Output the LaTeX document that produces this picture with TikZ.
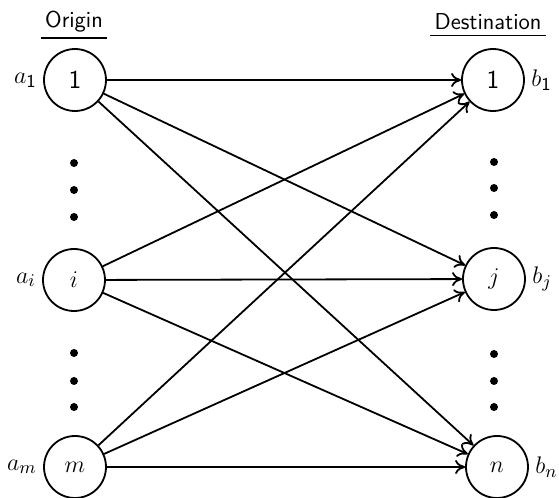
\documentclass[tikz,border=0pt]{standalone}
\usepackage{amsmath}
\usepackage{tikz}
\usetikzlibrary{positioning,arrows.meta}

\begin{document}
\begin{tikzpicture}[
    x=0.5pt, y=-0.5pt,
    node distance=2pt,
    stn/.style={draw, circle, line width=0.9pt, minimum size=31pt, inner sep=0pt, font=\sffamily\fontsize{13}{13}\selectfont},
    lbl/.style={font=\fontsize{13}{13}\selectfont, inner sep=1pt},
    head/.style={font=\sffamily\fontsize{11.5}{13}\selectfont, inner xsep=2pt, inner ysep=1pt},
    flow/.style={-{To[length=5pt,width=7pt]}, line width=0.9pt},
    rule/.style={line width=0.6pt}
]
\useasboundingbox (0,0) rectangle (559,498);

% Nodes
\node (o1) [stn] at (75,80) {1};
\node (oi) [stn] at (74,280) {$i$};
\node (om) [stn] at (75,467) {$m$};
\node (d1) [stn] at (493,80) {1};
\node (dj) [stn] at (494,279) {$j$};
\node (dn) [stn] at (497,467) {$n$};

% Labels
\node (a1) [lbl, left=of o1] {$a_{\textsf{1}}$};
\node (ai) [lbl, left=of oi] {$a_i$};
\node (am) [lbl, left=of om] {$a_m$};
\node (b1) [lbl, right=of d1] {$b_{\textsf{1}}$};
\node (bj) [lbl, right=of dj] {$b_j$};
\node (bn) [lbl, right=of dn] {$b_n$};

% Headings
\node (orig) [head] at (74,22) {Origin};
\node (dest) [head] at (488,22) {Destination};
\draw [rule] ([yshift=-1.5pt]orig.south west) -- ([yshift=-1.5pt]orig.south east);
\draw [rule] ([yshift=-1.5pt]dest.south west) -- ([yshift=-1.5pt]dest.south east);

% Dots
\foreach \y in {163,190,217,353,381,407}
    \fill (74,\y) circle (2pt);
\foreach \y in {162,188,215,354,381,407}
    \fill (494,\y) circle (2pt);

% Connections
\foreach \s in {o1,oi,om}
    \foreach \t in {d1,dj,dn}
        \draw [flow] (\s) -- (\t);

\end{tikzpicture}
\end{document}
